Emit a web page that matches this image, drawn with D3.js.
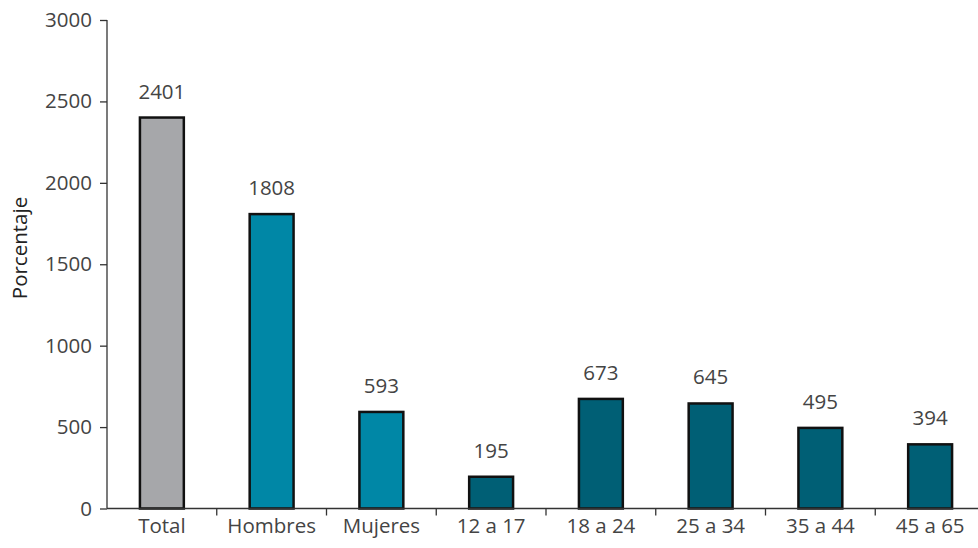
<!DOCTYPE html>
<html><head><meta charset="utf-8">
<script src="https://cdn.jsdelivr.net/npm/d3@7"></script>
<style>body{margin:0;background:#fff}svg{display:block}</style>
</head><body>
<svg id="c" width="978" height="548"></svg>
<script>
const categories = ["Total","Hombres","Mujeres","12 a 17","18 a 24","25 a 34","35 a 44","45 a 65"];
const values = [2401,1808,593,195,673,645,495,394];
const colors = ["#a6a7aa","#0087a6","#0087a6","#005f75","#005f75","#005f75","#005f75","#005f75"];
const yTicks = [0,500,1000,1500,2000,2500,3000];

const svg = d3.select("#c");
const font = "'Open Sans', 'Noto Sans', sans-serif";
const fs = 20.5;
const x = d3.scaleBand().domain(categories).range([107, 985]).padding(0);
const y = d3.scaleLinear().domain([0,3000]).range([508.5, 20]);
const bw = x.bandwidth()*0.4;

// bars
svg.selectAll("rect.bar").data(categories).join("rect")
  .attr("x", (d)=>x(d)+x.bandwidth()/2-bw/2)
  .attr("y", (d,i)=>y(values[i]))
  .attr("width", bw)
  .attr("height", (d,i)=>y(0)-y(values[i]))
  .attr("fill", (d,i)=>colors[i])
  .attr("stroke", "#111").attr("stroke-width", 2.5);

// value labels
svg.selectAll("text.val").data(categories).join("text")
  .attr("x", d=>x(d)+x.bandwidth()/2)
  .attr("y", (d,i)=>y(values[i])-19)
  .attr("text-anchor","middle")
  .attr("font-family", font).attr("font-size", fs).attr("fill","#444")
  .text((d,i)=>values[i]);

// y axis
const ya = svg.append("g").attr("transform","translate(107,0)")
  .call(d3.axisLeft(y).tickValues(yTicks).tickSize(7).tickPadding(8).tickFormat(d3.format("d")));
ya.select(".domain").attr("stroke","#333").attr("stroke-width",1.3).attr("d","M0,20V508.5");
ya.selectAll(".tick line").attr("stroke","#333").attr("stroke-width",1.3);
ya.selectAll("text").attr("font-family",font).attr("font-size",fs).attr("fill","#444");

// x axis
const xa = svg.append("g").attr("transform",`translate(0,${y(0)})`)
  .call(d3.axisBottom(x).tickSize(0).tickPadding(10));
xa.select(".domain").attr("stroke","#333").attr("stroke-width",1.3).attr("d","M107,0H978");
xa.selectAll("text").attr("font-family",font).attr("font-size",fs).attr("fill","#444");
// boundary ticks
const bounds = categories.slice(1).map(d=>x(d));
xa.selectAll("line.b").data(bounds).join("line")
  .attr("x1",d=>d).attr("x2",d=>d).attr("y1",0).attr("y2",7)
  .attr("stroke","#333").attr("stroke-width",1.3);

// y label
svg.append("text")
  .attr("transform","translate(27,248) rotate(-90)")
  .attr("text-anchor","middle")
  .attr("font-family",font).attr("font-size",fs).attr("fill","#222")
  .text("Porcentaje");
</script>
</body></html>
